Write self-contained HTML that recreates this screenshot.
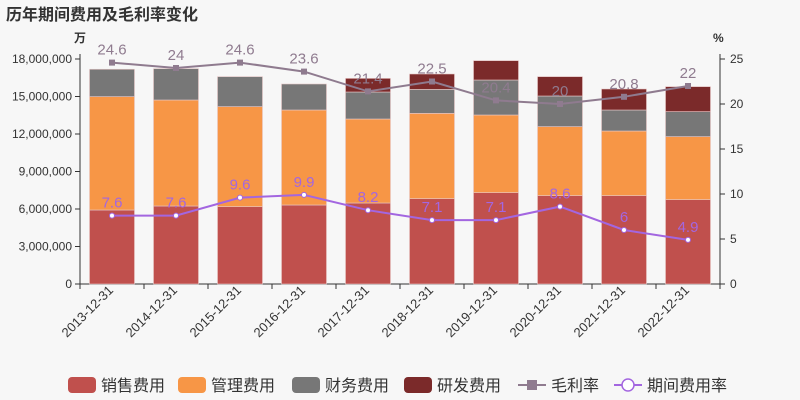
<!DOCTYPE html>
<html><head><meta charset="utf-8"><style>
body{margin:0;background:#f7f7f7;font-family:"Liberation Sans","Noto Sans CJK SC",sans-serif}
</style></head><body>
<svg id="c" width="800" height="400" xmlns="http://www.w3.org/2000/svg" style="display:block;background:#f7f7f7">
<text x="6" y="20" font-size="16" font-weight="bold" fill="#333" font-family="Liberation Sans, Noto Sans CJK SC, sans-serif">历年期间费用及毛利率变化</text>
</svg>
<script>
const categories=["2013-12-31","2014-12-31","2015-12-31","2016-12-31","2017-12-31","2018-12-31","2019-12-31","2020-12-31","2021-12-31","2022-12-31"];
const sales=[5920000,6240000,6190000,6320000,6480000,6830000,7310000,7070000,7070000,6750000];
const admin=[9070000,8480000,8000000,7600000,6720000,6820000,6210000,5520000,5170000,5040000];
const finance=[2190000,2510000,2400000,2080000,2160000,1920000,2800000,2450000,1680000,2000000];
const rnd=[0,0,0,0,1090000,1230000,1550000,1550000,1680000,2000000];
const grossMargin=[24.6,24,24.6,23.6,21.4,22.5,20.4,20,20.8,22];
const periodRate=[7.6,7.6,9.6,9.9,8.2,7.1,7.1,8.6,6,4.9];
const leftTicks=[0,3000000,6000000,9000000,12000000,15000000,18000000];
const rightTicks=[0,5,10,15,20,25];

const svg=document.getElementById('c');const NS="http://www.w3.org/2000/svg";
const X0=80,X1=720,Y0=284,Y1=59;
const bw=(X1-X0)/categories.length;
const yL=v=>Y0-(v/18000000)*(Y0-Y1);
const yR=v=>Y0-(v/25)*(Y0-Y1);
const xC=i=>X0+bw*(i+0.5);
function el(t,a,p){const e=document.createElementNS(NS,t);for(const k in a)e.setAttribute(k,a[k]);(p||svg).appendChild(e);return e;}
const F="Liberation Sans, Noto Sans CJK SC, sans-serif";
let ax=el('line',{x1:X0,y1:Y1-5,x2:X0,y2:Y0,stroke:'#333'});

ax=el('line',{x1:X1,y1:Y1-5,x2:X1,y2:Y0,stroke:'#333'});

ax=el('line',{x1:X0,y1:Y0,x2:X1,y2:Y0,stroke:'#333'});

leftTicks.forEach(v=>{const y=yL(v);el('line',{x1:X0-5,y1:y,x2:X0,y2:y,stroke:'#333'});
 const t=el('text',{x:X0-8,y:y+4,'text-anchor':'end','font-size':12,fill:'#333','font-family':F});t.textContent=v.toLocaleString('en-US');
 });
rightTicks.forEach(v=>{const y=yR(v);el('line',{x1:X1,y1:y,x2:X1+5,y2:y,stroke:'#333'});
 const t=el('text',{x:X1+10,y:y+4,'font-size':12,fill:'#333','font-family':F});t.textContent=v;
 });
let u=el('text',{x:74,y:42,'font-size':12,'font-weight':'bold',fill:'#333','font-family':F});u.textContent='万';

u=el('text',{x:713,y:42,'font-size':12,'font-weight':'bold',fill:'#333','font-family':F});u.textContent='%';

for(let i=0;i<=categories.length;i++){const x=X0+bw*i;el('line',{x1:x,y1:Y0,x2:x,y2:Y0+5,stroke:'#333'});}
categories.forEach((c,i)=>{const x=xC(i)+2,y=Y0+7;
 const t=el('text',{x:x,y:y,'text-anchor':'end','font-size':13,fill:'#333','font-family':F,transform:`rotate(-45 ${x} ${y})`});t.textContent=c;
 });
const series=[[sales,'#c0504d','sales'],[admin,'#f79646','admin'],[finance,'#777777','finance'],[rnd,'#7b2a2a','rnd']];
categories.forEach((c,i)=>{let acc=0;series.forEach(([arr,col,nm])=>{const v=arr[i];if(v<=0)return;
 const yt=yL(acc+v),yb=yL(acc);acc+=v;
 const r=el('rect',{x:xC(i)-22.5,y:yt,width:45,height:yb-yt,fill:col,stroke:'#e8c8c8','stroke-width':0.6});
 });});
function line(arr,col,nm,sq){
 const p=el('polyline',{points:arr.map((v,i)=>xC(i)+','+yR(v)).join(' '),fill:'none',stroke:col,'stroke-width':2});
 
 arr.forEach((v,i)=>{const x=xC(i),y=yR(v);let m;
  if(sq)m=el('rect',{x:x-3,y:y-3,width:6,height:6,fill:col});
  else m=el('circle',{cx:x,cy:y,r:2.5,fill:'#fff',stroke:col,'stroke-width':1});
  
  const t=el('text',{x:x,y:y-8,'text-anchor':'middle','font-size':15,fill:col,'font-family':F});t.textContent=v;
  });}
line(grossMargin,'#8f7b8f','gross-margin',true);
line(periodRate,'#a366e0','period-rate',false);
const leg=[['销售费用','#c0504d','r'],['管理费用','#f79646','r'],['财务费用','#777777','r'],['研发费用','#7b2a2a','r'],['毛利率','#8f7b8f','s'],['期间费用率','#a366e0','c']];
const lx=[68,178,292,404,518,614];
leg.forEach(([n,c,k],i)=>{const g=el('g',{});
 const x=lx[i],y=385;
 if(k=='r')el('rect',{x:x,y:y-8,width:28,height:16,rx:4,fill:c},g);
 else{el('line',{x1:x,y1:y,x2:x+28,y2:y,stroke:c,'stroke-width':2},g);
  if(k=='s')el('rect',{x:x+9,y:y-5,width:10,height:10,fill:c},g);
  else el('circle',{cx:x+14,cy:y,r:6,fill:'#fff',stroke:c,'stroke-width':1.5},g);}
 const t=el('text',{x:x+33,y:y+6,'font-size':16,fill:'#333','font-family':F},g);t.textContent=n;});
</script>
</body></html>
